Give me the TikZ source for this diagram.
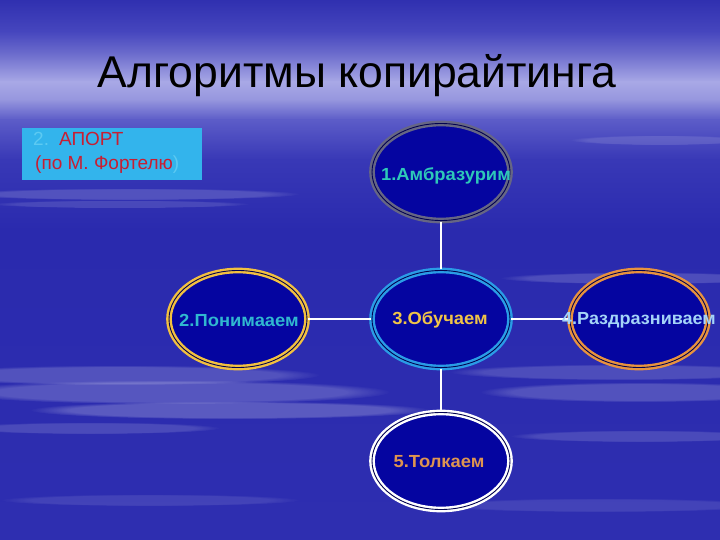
\documentclass[tikz,border=0pt]{standalone}
\usepackage{fontspec}
\usepackage{graphicx}
\setmainfont{Liberation Sans}
\usetikzlibrary{shapes.geometric,fadings}
\definecolor{navyfill}{HTML}{0505A0}
\definecolor{ringgray}{HTML}{666684}
\definecolor{ringgold}{HTML}{F2C040}
\definecolor{ringblue}{HTML}{2A9CE6}
\definecolor{ringorange}{HTML}{E8923E}
\definecolor{txtteal}{HTML}{2EC8B8}
\definecolor{txtcyan}{HTML}{30B8D0}
\definecolor{txtyellow}{HTML}{F0C448}
\definecolor{txtlight}{HTML}{A4D4F8}
\definecolor{txtorange}{HTML}{DE9450}
\definecolor{boxblue}{HTML}{33B4EC}
\definecolor{boxlight}{HTML}{5CCAF2}
\definecolor{boxred}{HTML}{C81E32}
\tikzset{
  oval/.style={ellipse, minimum width=138pt, minimum height=97pt, inner sep=0pt,
    fill=navyfill, draw=#1, line width=2.4pt, double=navyfill!50!black, double distance=0.9pt},
  lbl/.style={font=\fontsize{17.5}{21}\selectfont\bfseries, text=#1, inner sep=0pt},
  link/.style={draw=white, line width=1.5pt},
  streak/.style={fill=white, opacity=#1, path fading=circle with fuzzy edge 20 percent}
}
\begin{document}
\begin{tikzpicture}[x=1pt,y=-1pt]
\useasboundingbox (0,0) rectangle (720,540);
% background bands
\shade[top color={rgb,255:red,48;green,48;blue,176}, bottom color={rgb,255:red,70;green,70;blue,190}] (0,0) rectangle (720,32);
\shade[top color={rgb,255:red,70;green,70;blue,190}, bottom color={rgb,255:red,112;green,112;blue,206}] (0,31.5) rectangle (720,56);
\shade[top color={rgb,255:red,112;green,112;blue,206}, bottom color={rgb,255:red,168;green,168;blue,230}] (0,55.5) rectangle (720,82);
\shade[top color={rgb,255:red,168;green,168;blue,230}, bottom color={rgb,255:red,150;green,150;blue,222}] (0,81.5) rectangle (720,100);
\shade[top color={rgb,255:red,150;green,150;blue,222}, bottom color={rgb,255:red,92;green,92;blue,200}] (0,99.5) rectangle (720,120);
\shade[top color={rgb,255:red,92;green,92;blue,200}, bottom color={rgb,255:red,56;green,56;blue,182}] (0,119.5) rectangle (720,160);
\shade[top color={rgb,255:red,56;green,56;blue,182}, bottom color={rgb,255:red,42;green,42;blue,174}] (0,159.5) rectangle (720,230);
\shade[top color={rgb,255:red,42;green,42;blue,174}, bottom color={rgb,255:red,46;green,46;blue,176}] (0,229.5) rectangle (720,540);
% cloud streaks
\fill[streak=0.16] (130,194) ellipse [x radius=170pt, y radius=6pt];
\fill[streak=0.12] (120,204) ellipse [x radius=130pt, y radius=4pt];
\fill[streak=0.18] (120,375) ellipse [x radius=200pt, y radius=10pt];
\fill[streak=0.20] (170,392) ellipse [x radius=220pt, y radius=12pt];
\fill[streak=0.22] (230,410) ellipse [x radius=200pt, y radius=9pt];
\fill[streak=0.14] (90,428) ellipse [x radius=130pt, y radius=6pt];
\fill[streak=0.16] (640,278) ellipse [x radius=140pt, y radius=6pt];
\fill[streak=0.16] (620,372) ellipse [x radius=170pt, y radius=8pt];
\fill[streak=0.18] (640,392) ellipse [x radius=160pt, y radius=10pt];
\fill[streak=0.14] (640,436) ellipse [x radius=130pt, y radius=6pt];
\fill[streak=0.12] (660,140) ellipse [x radius=90pt, y radius=5pt];
\fill[streak=0.10] (600,505) ellipse [x radius=170pt, y radius=7pt];
\fill[streak=0.10] (150,500) ellipse [x radius=150pt, y radius=6pt];
% title
\node[anchor=base, inner sep=0pt, font=\fontsize{44.5}{50}\selectfont, text=black] (title) at (357,88) {Алгоритмы копирайтинга};
% box
\node[fill=boxblue, minimum width=180pt, minimum height=52pt, inner sep=0pt, anchor=north west] (box) at (22,128) {};
\node[anchor=base west, inner sep=0pt, font=\fontsize{19}{22}\selectfont] (boxl1) at (33,146) {\textcolor{boxlight}{2.}\hspace{10pt}\textcolor{boxred}{АПОРТ}};
\node[anchor=base west, inner sep=0pt, font=\fontsize{19}{22}\selectfont] (boxl2) at (35,170) {\textcolor{boxred}{(по М. Фортелю}\textcolor{boxlight}{)}};
% ellipses
\node[oval=ringgray] (e1) at (441,172) {};
\node[oval=ringgold] (e2) at (238,319) {};
\node[oval=ringblue] (e3) at (441,319) {};
\node[oval=ringorange] (e4) at (639,319) {};
\node[oval=white] (e5) at (441,461) {};
% connectors
\draw[link] (e1) -- (e3);
\draw[link] (e2) -- (e3);
\draw[link] (e3) -- (e4);
\draw[link] (e3) -- (e5);
% labels
\node[lbl=txtteal] (t1) at (446,176) {\scalebox{1.05}[1]{1.Амбразурим}};
\node[lbl=txtcyan] (t2) at (239,320) {\scalebox{1.05}[1]{2.Понимааем}};
\node[lbl=txtyellow] (t3) at (440,320) {\scalebox{1.05}[1]{3.Обучаем}};
\node[lbl=txtlight] (t4) at (639,320) {\scalebox{1.03}[1]{4.Раздразниваем}};
\node[lbl=txtorange] (t5) at (439,462) {\scalebox{1.05}[1]{5.Толкаем}};
\end{tikzpicture}
\end{document}
